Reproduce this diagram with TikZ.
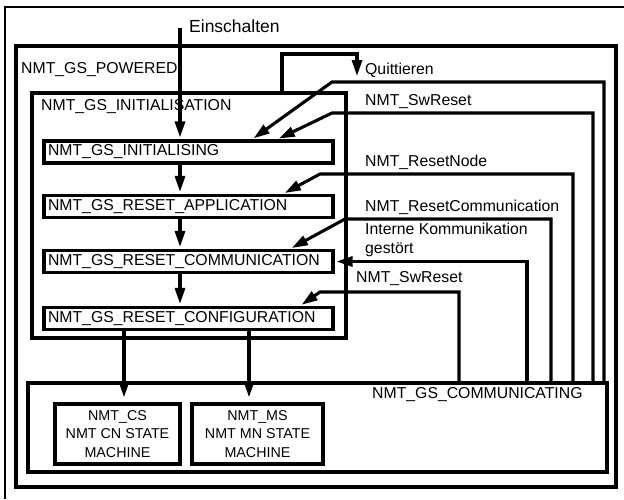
\documentclass[tikz,border=0pt]{standalone}
\usepackage{fontspec}
\setmainfont{Liberation Sans}
\usepackage{tikz}
\usetikzlibrary{arrows.meta}
\tikzset{>={Triangle[length=16pt,width=10pt]}}
\tikzstyle{conn}=[->,line width=3.1pt,shorten >=2pt]
\tikzstyle{frame}=[draw,line width=3.1pt,inner sep=0pt]
\tikzstyle{statebox}=[draw,line width=3.1pt,minimum height=22pt,inner xsep=4pt,inner ysep=1pt,text width=281pt,align=left]
\tikzstyle{txt}=[anchor=west,inner sep=0pt]

\begin{document}
\begin{tikzpicture}[x=1pt,y=-1pt]
  \tikzstyle{every node}=[font=\fontsize{15.8}{19}\selectfont]
  \useasboundingbox (0,0) rectangle (624,499);
  \draw[line width=1.8pt] (5,499) -- (5,7) -- (624,7);

  % frames
  \node[frame,minimum width=600,minimum height=441] (powered) at (316,266.5) {};
  \node[frame,minimum width=314,minimum height=245] (initn) at (189,215.5) {};
  \node[frame,minimum width=579,minimum height=89] (comm) at (317.5,427.5) {};
  \node[txt] (powlbl) at (21,70) {NMT\_GS\_POWERED};
  \node[txt] (initlbl) at (41,107) {NMT\_GS\_INITIALISATION};
  \node[txt] (commlbl) at (372,395) {NMT\_GS\_COMMUNICATING};

  % states
  \node[statebox] (initing) at (188.5,152) {NMT\_GS\_INITIALISING};
  \node[statebox] (app) at (188.5,206.5) {NMT\_GS\_RESET\_APPLICATION};
  \node[statebox] (comu) at (188.5,261.5) {NMT\_GS\_RESET\_COMMUNICATION};
  \node[statebox] (cfg) at (188.5,318.5) {NMT\_GS\_RESET\_CONFIGURATION};
  \node[frame,minimum width=125,minimum height=60,align=center,
        font=\fontsize{14.3}{18.5}\selectfont] (cs) at (117.5,434) {NMT\_CS\\NMT CN STATE\\MACHINE};
  \node[frame,minimum width=131,minimum height=60,align=center,
        font=\fontsize{14.3}{18.5}\selectfont] (ms) at (257.5,434) {NMT\_MS\\NMT MN STATE\\MACHINE};

  % switching on
  \coordinate (ein) at (180,28);
  \node[txt,font=\fontsize{17.5}{20}\selectfont] (einlbl) at (189,26) {Einschalten};
  \draw[conn] (ein) -- (initing.north -| ein);
  \draw[conn] (initing.south -| ein) -- (app.north -| ein);
  \draw[conn] (app.south -| ein) -- (comu.north -| ein);
  \draw[conn] (comu.south -| ein) -- (cfg.north -| ein);
  \draw[conn,shorten >=5pt] (cfg.south -| 124,0) -- (cs.north -| 124,0);
  \draw[conn,shorten >=5pt] (cfg.south -| 249,0) -- (ms.north -| 249,0);

  % Quittieren
  \coordinate (quitt) at (357,76);
  \draw[conn,shorten >=0pt] (initn.north -| 282,0) |- (357,54) -- (quitt);
  \node[txt] (quittlbl) at (365,70) {Quittieren};

  % transitions from NMT_GS_COMMUNICATING
  \draw[conn] (comm.north -| 604,0) |- (332,82) -- (initing.north -| 252,0);
  \draw[conn] (comm.north -| 593,0) |- (332,113) -- (initing.north -| 277,0);
  \node[txt] (swr1) at (365,102) {NMT\_SwReset};
  \draw[conn] (comm.north -| 573,0) |- (320,174) -- (app.north -| 283,0);
  \node[txt] (rnode) at (365,162) {NMT\_ResetNode};
  \draw[conn] (comm.north -| 551,0) |- (345,219) -- (comu.north -| 290,0);
  \node[txt] (rcom) at (365,207) {NMT\_ResetCommunication};
  \draw[conn] (comm.north -| 527,0) |- (comu.east);
  \node[txt,align=left] (ikom) at (365,239.5) {Interne Kommunikation\\gestört};
  \draw[conn] (comm.north -| 459,0) |- (320,292) -- (cfg.north -| 300,0);
  \node[txt] (swr2) at (356,279) {NMT\_SwReset};
\end{tikzpicture}
\end{document}
